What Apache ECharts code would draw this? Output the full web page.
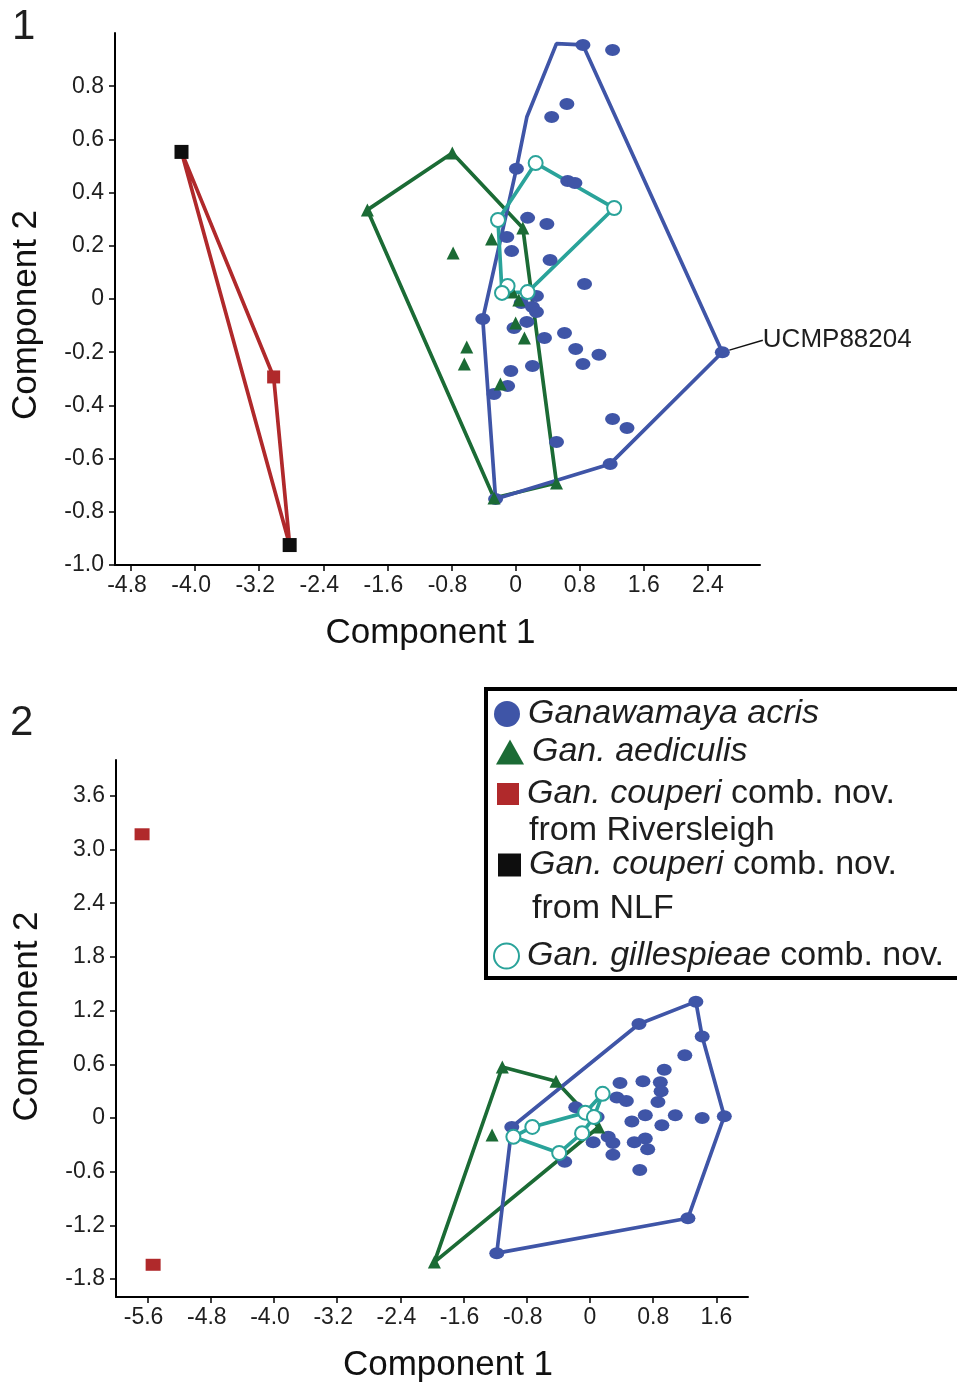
<!DOCTYPE html>
<html>
<head>
<meta charset="utf-8">
<title>Component plots</title>
<script src="https://cdn.jsdelivr.net/npm/echarts@6/dist/echarts.min.js"></script>
<style>
  html, body { margin: 0; padding: 0; background: #fff; }
  #main { width: 957px; height: 1384px; }
</style>
</head>
<body>
<div id="main"></div>
<script>
// ---- plot 1 data (Component 1, Component 2) ----
var acris1 = [[0.84,0.955],[1.21,0.936],[0.64,0.733],[0.45,0.684],[0.01,0.49],[0.65,0.444],[0.74,0.436],
  [0.15,0.305],[0.39,0.282],[-0.11,0.233],[-0.05,0.18],[0.43,0.147],[0.86,0.056],[0.26,0.011],
  [0.07,-0.015],[0.21,-0.03],[0.26,-0.049],[-0.41,-0.075],[0.14,-0.086],[-0.02,-0.109],[0.36,-0.147],
  [0.61,-0.128],[0.75,-0.188],[1.04,-0.21],[0.84,-0.244],[0.21,-0.252],[-0.06,-0.271],[-0.10,-0.327],
  [-0.27,-0.357],[1.21,-0.451],[1.39,-0.485],[0.51,-0.538],[1.18,-0.62],[-0.25,-0.752]];
var ucmp88204 = [2.58, -0.2];
var aediculis1 = [[-0.79,0.549],[-1.85,0.335],[0.09,0.267],[-0.30,0.226],[-0.78,0.173],[-0.16,0.038],
  [-0.04,0.026],[0.04,-0.004],[0.0,-0.09],[0.11,-0.147],[-0.61,-0.18],[-0.64,-0.244],[-0.19,-0.32],
  [0.51,-0.692],[-0.27,-0.748]];
var gillespieae1 = [[0.25,0.511],[1.23,0.342],[-0.22,0.297],[-0.10,0.049],[-0.17,0.023],[0.15,0.026]];
var couperiRiv1 = [[-3.02,-0.293]];
var couperiNLF1 = [[-4.17,0.553],[-2.82,-0.925]];

var hullAcris1 = [[-0.25,-0.752],[1.18,-0.62],[2.58,-0.2],[0.84,0.955],[0.51,0.96],[0.14,0.684],[0.01,0.49],[-0.41,-0.075],[-0.25,-0.752]];
var hullAediculis1 = [[-0.27,-0.748],[0.51,-0.692],[0.09,0.267],[-0.79,0.549],[-1.85,0.335],[-0.27,-0.748]];
var hullGillespieae1 = [[-0.22,0.297],[0.25,0.511],[1.23,0.342],[0.15,0.026],[-0.17,0.023],[-0.22,0.297]];
var hullCouperi1 = [[-4.17,0.553],[-3.02,-0.293],[-2.82,-0.925],[-4.17,0.553]];

var xTicks1 = [-4.8,-4.0,-3.2,-2.4,-1.6,-0.8,0,0.8,1.6,2.4];
var yTicks1 = [-1.0,-0.8,-0.6,-0.4,-0.2,0,0.2,0.4,0.6,0.8];

// ---- plot 2 data ----
var acris2 = [[1.34,1.30],[0.62,1.05],[1.42,0.91],[1.20,0.70],[0.94,0.54],[0.38,0.39],[0.67,0.41],
  [0.89,0.40],[0.90,0.30],[0.34,0.23],[0.46,0.19],[0.86,0.18],[-0.18,0.12],[-0.04,0.06],[0.09,0.01],
  [0.70,0.03],[1.08,0.03],[1.42,0.0],[1.70,0.02],[0.53,-0.04],[0.91,-0.08],[-0.99,-0.10],[-0.10,-0.18],
  [0.23,-0.21],[0.04,-0.27],[0.29,-0.28],[0.56,-0.27],[0.70,-0.23],[0.73,-0.35],[0.29,-0.41],
  [-0.32,-0.49],[0.63,-0.58],[1.24,-1.12],[-1.18,-1.51]];
var aediculis2 = [[-1.11,0.57],[-0.43,0.41],[0.11,-0.10],[-1.24,-0.19],[-1.97,-1.61]];
var gillespieae2 = [[0.16,0.27],[-0.06,0.06],[0.05,0.01],[-0.73,-0.10],[-0.97,-0.21],[-0.10,-0.17],[-0.39,-0.39]];
var couperiRiv2 = [[-5.67,3.17],[-5.53,-1.64]];

var hullAcris2 = [[-1.18,-1.51],[1.24,-1.12],[1.70,0.02],[1.42,0.91],[1.34,1.30],[0.62,1.05],[-0.99,-0.10],[-1.18,-1.51]];
var hullAediculis2 = [[-1.97,-1.61],[-1.11,0.57],[-0.43,0.41],[0.11,-0.10],[-1.97,-1.61]];
var hullGillespieae2 = [[-0.97,-0.21],[-0.73,-0.10],[-0.06,0.06],[0.16,0.27],[0.05,0.01],[-0.10,-0.17],[-0.39,-0.39],[-0.97,-0.21]];

var xTicks2 = [-5.6,-4.8,-4.0,-3.2,-2.4,-1.6,-0.8,0,0.8,1.6];
var yTicks2 = [-1.8,-1.2,-0.6,0,0.6,1.2,1.8,2.4,3.0,3.6];

(function() {
  var FONT = '"Liberation Sans", Arial, Helvetica, sans-serif';
  var BLUE = '#3f55a7';
  var GREEN = '#1b6b35';
  var RED = '#b0292b';
  var TEAL = '#2aa39a';
  var BLACK = '#0e0e0e';
  var TXT = '#1e1e1e';

  var N_ACRIS = 'Ganawamaya acris';
  var N_AED = 'Gan. aediculis';
  var N_RIV = 'Gan. couperi comb. nov. from Riversleigh';
  var N_NLF = 'Gan. couperi comb. nov. from NLF';
  var N_GIL = 'Gan. gillespieae comb. nov.';

  function fmt(v) {
    return v === 0 ? '0' : v.toFixed(1);
  }
  // x labels: the digits sit centred on the tick, the minus hangs out to the left
  function fmtX(v) {
    if (v < 0) return '-' + Math.abs(v).toFixed(1) + '{p|}';
    return fmt(v);
  }

  // namePad shifts the axis title along the axis
  function axis(grid, min, max, ticks, isY, namePad) {
    return {
      type: 'value',
      gridIndex: grid,
      min: min,
      max: max,
      name: isY ? 'Component 2' : 'Component 1',
      nameLocation: 'middle',
      nameGap: isY ? 71 : 51,
      nameRotate: isY ? 90 : 0,
      nameTextStyle: { fontFamily: FONT, fontSize: 35, color: '#111', padding: namePad },
      splitLine: { show: false },
      axisLine: { show: true, onZero: false, lineStyle: { color: '#000', width: 2 } },
      axisTick: { show: true, customValues: ticks, length: 6, lineStyle: { color: '#000', width: 1.5 } },
      axisLabel: {
        customValues: ticks, formatter: isY ? fmt : fmtX,
        fontFamily: FONT, fontSize: 23, color: TXT, margin: isY ? 11 : 9,
        rich: { p: { width: 8 } }
      }
    };
  }

  function scatter(name, data, grid, symbol, size, color, z) {
    return {
      name: name,
      type: 'scatter',
      xAxisIndex: grid,
      yAxisIndex: grid,
      symbol: symbol,
      symbolSize: size,
      itemStyle: symbol === 'emptyCircle' ? { color: color, borderWidth: 1.8, opacity: 1 } : { color: color, opacity: 1 },
      z: z || 4,
      data: data
    };
  }

  function hull(name, data, grid, color) {
    return {
      name: name,
      type: 'line',
      xAxisIndex: grid,
      yAxisIndex: grid,
      symbol: 'none',
      silent: true,
      lineStyle: { color: color, width: 3.7 },
      itemStyle: { color: color },
      z: 2,
      data: data
    };
  }

  function legendItem(name, icon, w, h, left, top, formatter) {
    return {
      data: [name],
      icon: icon,
      itemWidth: w,
      itemHeight: h,
      left: left,
      top: top,
      padding: 0,
      selectedMode: false,
      formatter: formatter || name,
      textStyle: {
        fontFamily: FONT, fontSize: 34, color: TXT, fontStyle: formatter ? 'normal' : 'italic',
        lineHeight: h, padding: [0, 0, 0, 3],
        rich: { i: { fontFamily: FONT, fontSize: 34, fontStyle: 'italic', color: TXT, lineHeight: h } }
      }
    };
  }

  var acrisData1 = acris1.slice();
  acrisData1.push({
    value: ucmp88204,
    label: { show: true, position: 'right', formatter: 'UCMP88204', fontFamily: FONT, fontSize: 26, color: TXT },
    labelLine: { show: true, lineStyle: { color: '#111', width: 1.5 } }
  });

  var series = [
    hull('couperi hull 1', hullCouperi1, 0, RED),
    hull('aediculis hull 1', hullAediculis1, 0, GREEN),
    hull('acris hull 1', hullAcris1, 0, BLUE),
    hull('gillespieae hull 1', hullGillespieae1, 0, TEAL),
    scatter(N_ACRIS, acrisData1, 0, 'circle', [15, 12], BLUE),
    scatter(N_AED, aediculis1, 0, 'triangle', 13, GREEN),
    scatter(N_RIV, couperiRiv1, 0, 'rect', 13, RED),
    scatter(N_NLF, couperiNLF1, 0, 'rect', 14, BLACK),
    scatter(N_GIL, gillespieae1, 0, 'emptyCircle', 14, TEAL, 5),

    hull('aediculis hull 2', hullAediculis2, 1, GREEN),
    hull('acris hull 2', hullAcris2, 1, BLUE),
    hull('gillespieae hull 2', hullGillespieae2, 1, TEAL),
    scatter(N_ACRIS, acris2, 1, 'circle', [15, 12], BLUE),
    scatter(N_AED, aediculis2, 1, 'triangle', 13, GREEN),
    scatter(N_RIV, couperiRiv2, 1, 'rect', [15, 12], RED),
    scatter(N_GIL, gillespieae2, 1, 'emptyCircle', 14, TEAL, 5)
  ];
  series[4].labelLayout = { dx: 28, dy: -12 };

  var option = {
    animation: false,
    backgroundColor: '#fff',
    grid: [
      { left: 115, top: 33, width: 645, height: 532, outerBoundsMode: 'none' },
      { left: 116, top: 760, width: 632, height: 537, outerBoundsMode: 'none' }
    ],
    xAxis: [
      axis(0, -5.0, 3.05, xTicks1, false, [0, 14, 0, 0]),
      axis(1, -6.0, 2.0, xTicks2, false, [0, 0, 0, 32])
    ],
    yAxis: [
      axis(0, -1.0, 1.0, yTicks1, true, [0, 32, 0, 0]),
      axis(1, -2.0, 4.0, yTicks2, true, [0, 0, 0, 24])
    ],
    legend: [
      legendItem(N_ACRIS, 'circle', 26, 26, 494, 697),
      legendItem(N_AED, 'triangle', 28, 25, 496, 735),
      legendItem(N_RIV, 'rect', 22, 22, 497, 777, '{i|Gan. couperi} comb. nov.'),
      legendItem(N_NLF, 'rect', 23, 23, 498, 848, '{i|Gan. couperi} comb. nov.'),
      legendItem(N_GIL, 'emptyCircle', 25, 25, 493, 939, '{i|Gan. gillespieae} comb. nov.')
    ],
    graphic: [
      { type: 'rect', z: -1, shape: { x: 486, y: 689, width: 490, height: 289 },
        style: { fill: '#fff', stroke: '#000', lineWidth: 4 } },
      { type: 'text', left: 529, top: 814, style: { text: 'from Riversleigh', font: '34px ' + FONT, fill: TXT } },
      { type: 'text', left: 532, top: 892, style: { text: 'from NLF', font: '34px ' + FONT, fill: TXT } },
      { type: 'text', left: 12, top: 6, style: { text: '1', font: '42px ' + FONT, fill: TXT } },
      { type: 'text', left: 10, top: 702, style: { text: '2', font: '42px ' + FONT, fill: TXT } }
    ],
    series: series
  };

  var myChart = echarts.init(document.getElementById('main'), null, { renderer: 'canvas' });
  myChart.setOption(option);
})();
</script>
</body>
</html>
